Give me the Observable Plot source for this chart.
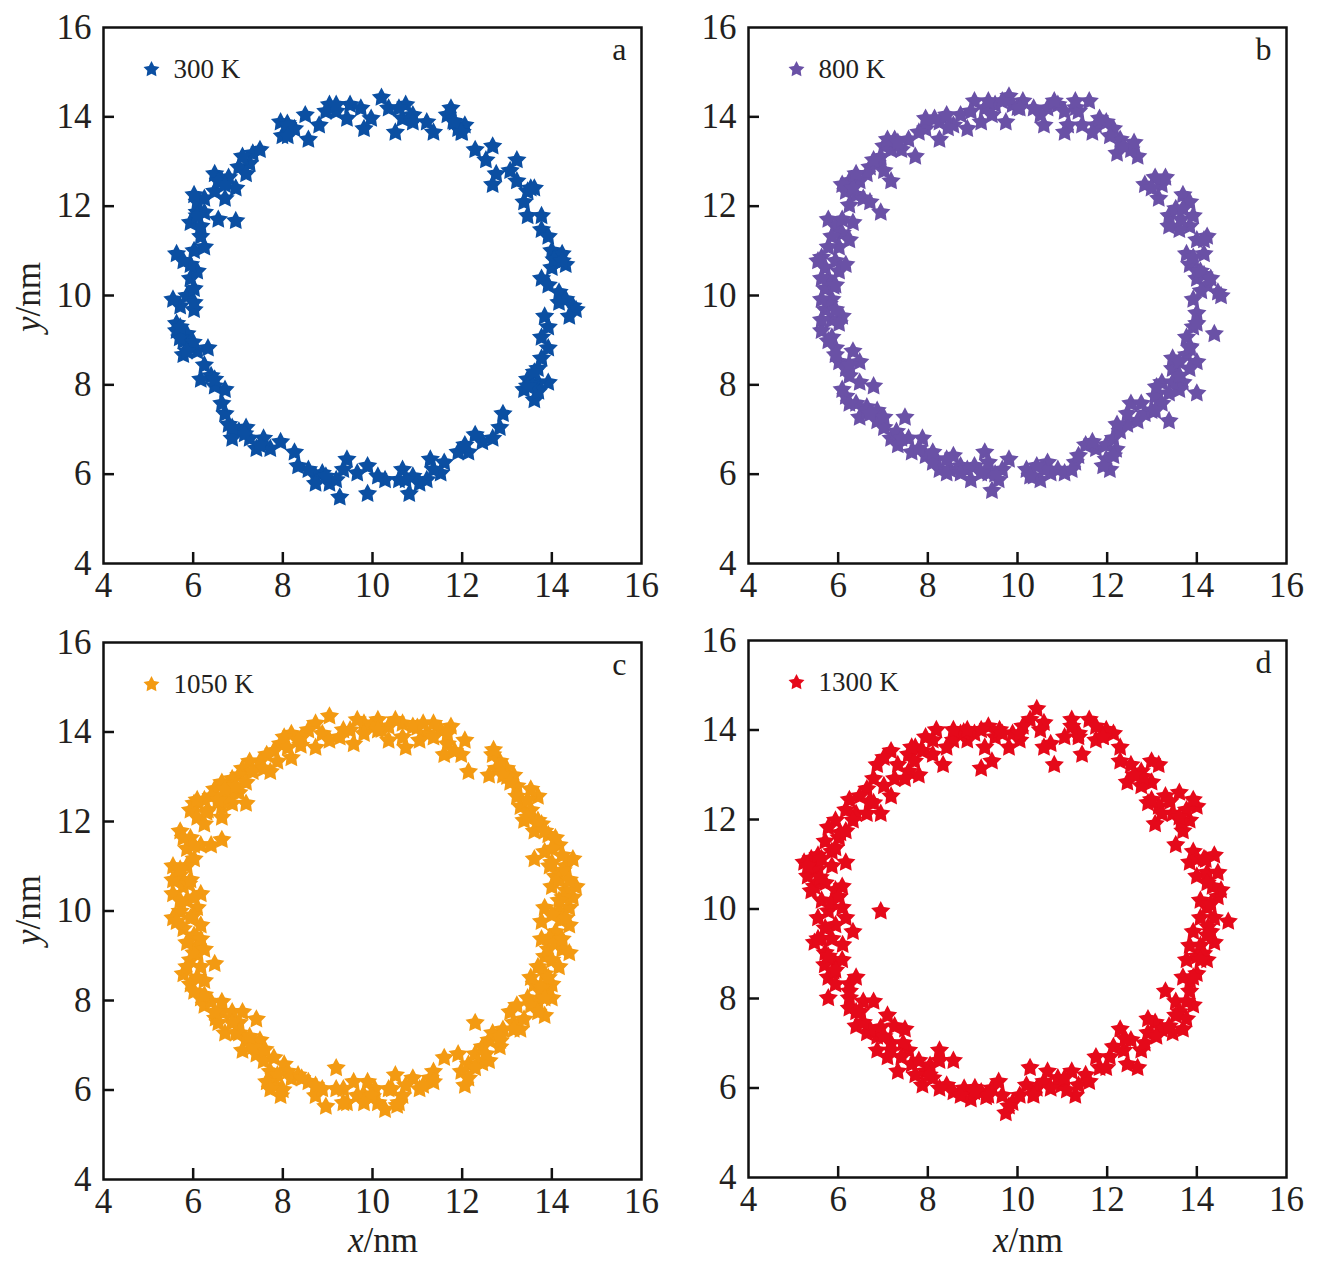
<!DOCTYPE html>
<html>
<head>
<meta charset="utf-8">
<script src="https://cdn.jsdelivr.net/npm/d3@7"></script>
<script src="https://cdn.jsdelivr.net/npm/@observablehq/plot@0.6"></script>
<style>
  html, body { margin: 0; padding: 0; background: #fff; }
  #wrap { position: relative; width: 1327px; height: 1273px; overflow: hidden; font-family: 'Liberation Serif', 'Times New Roman', serif; color: #231f20; }
  .pn { position: absolute; }
  .lab { position: absolute; font-size: 35px; white-space: nowrap; line-height: 1; }
  .lab i { font-style: italic; }
</style>
</head>
<body>
<div id="wrap"></div>
<script>
// tick labels / ticks
const tickValues = [4, 6, 8, 10, 12, 14, 16];
const innerTicks = [6, 8, 10, 12, 14];
const temps = ["300 K", "800 K", "1050 K", "1300 K"];
const letters = ["a", "b", "c", "d"];
const colors = ["#0b4fa2", "#6a51a6", "#f39a12", "#e5091a"];

// point positions (x nm, y nm)
const pts300 = [
[7.95,13.88],[7.99,13.57],[8.26,13.73],[8.50,14.04],[8.57,13.49],[8.81,13.81],[9.04,14.27],[9.19,14.12],[9.50,14.27],[9.43,13.96],
[9.74,14.19],[9.81,13.73],[9.97,13.96],[10.20,14.43],[10.36,14.19],[10.51,13.65],[10.67,13.96],[10.74,14.27],[10.90,14.04],[11.21,13.88],
[11.36,13.65],[11.67,14.04],[11.75,14.19],[11.91,13.73],[12.06,13.81],[12.29,13.26],[12.53,13.03],[12.68,13.34],[12.76,12.72],[12.68,12.48],
[13.07,12.79],[13.22,13.03],[13.22,12.56],[13.46,12.33],[13.61,12.40],[13.38,12.09],[13.46,11.78],[13.77,11.78],[13.77,11.47],[13.92,11.32],
[14.00,11.00],[14.16,10.85],[14.31,10.69],[14.23,10.93],[14.00,10.62],[13.77,10.38],[13.92,10.23],[14.16,10.07],[14.31,9.91],[14.47,9.76],
[14.54,9.68],[14.39,9.53],[13.84,9.53],[13.92,9.29],[13.77,9.06],[13.92,8.82],[13.77,8.59],[13.69,8.36],[13.46,8.12],[13.92,8.05],
[13.38,7.89],[13.61,7.66],[13.69,8.05],[12.91,7.35],[12.84,7.04],[12.68,6.80],[12.45,6.72],[12.29,6.88],[12.14,6.49],[11.91,6.49],
[11.60,6.26],[11.52,6.02],[11.29,6.33],[11.21,5.87],[11.05,5.79],[10.90,5.95],[10.82,5.56],[10.67,6.10],[10.59,5.87],[10.28,5.87],
[10.12,5.95],[9.89,6.18],[9.89,5.56],[9.66,6.02],[9.43,6.33],[9.35,6.10],[9.19,5.87],[9.27,5.48],[9.04,5.79],[8.88,6.02],
[8.73,5.95],[8.57,6.10],[8.34,6.18],[8.26,6.49],[7.95,6.72],[7.72,6.57],[7.57,6.80],[7.41,6.57],[7.26,6.80],[7.18,7.04],
[7.02,6.96],[6.87,6.80],[6.79,7.11],[6.71,7.35],[6.64,7.58],[6.71,7.89],[6.48,7.97],[6.40,8.20],[6.17,8.12],[6.25,8.44],
[6.09,8.75],[6.33,8.82],[5.94,8.90],[5.78,8.67],[5.78,8.98],[5.63,9.21],[5.86,9.14],[5.63,9.37],[6.02,9.68],[5.71,9.76],
[5.55,9.91],[5.86,9.99],[6.02,10.15],[5.94,10.38],[6.09,10.54],[5.94,10.69],[5.63,10.93],[5.78,10.77],[6.02,11.00],[6.25,11.08],
[6.17,11.32],[6.17,11.55],[5.94,11.63],[6.09,11.86],[6.25,11.86],[6.56,11.70],[6.95,11.67],[6.09,12.09],[6.25,12.17],[6.48,12.33],
[6.71,12.17],[6.64,12.56],[6.48,12.72],[6.79,12.64],[6.95,12.40],[7.02,12.87],[7.26,12.95],[7.33,13.18],[7.49,13.26],[7.10,13.11],
[7.18,12.72],[8.10,13.85],[11.80,13.90],[12.00,13.65],[14.05,10.80],[13.70,7.85],[13.55,8.00],[6.00,8.95],[5.70,9.05],[7.15,6.90],
[8.11,13.81],[8.11,13.57],[8.96,14.12],[9.19,14.27],[10.59,14.19],[10.90,13.88],[11.83,13.88],[11.98,13.65],[13.53,12.40],[14.23,10.77],
[14.16,9.84],[13.61,8.28],[13.46,7.97],[12.06,6.65],[11.36,6.10],[10.74,5.87],[8.96,5.95],[8.73,5.79],[7.49,6.65],[6.87,7.04],
[6.48,8.12],[5.86,8.75],[5.71,9.29],[6.02,9.84],[6.09,11.78],[6.02,12.25],[6.56,12.56],[6.71,12.48]
];

const pts800 = [
[9.04,14.35],[9.27,14.19],[9.50,14.27],[9.43,14.04],[9.81,14.46],[9.89,14.27],[10.12,14.35],[9.74,13.88],[9.19,13.88],[8.88,13.73],
[8.73,14.04],[8.57,13.81],[8.26,13.88],[8.15,13.96],[8.26,13.49],[7.95,13.73],[7.80,13.65],[7.57,13.49],[7.26,13.49],[7.18,13.26],
[7.02,13.34],[7.41,13.26],[7.72,13.11],[6.87,12.95],[6.71,12.87],[6.64,12.72],[6.48,12.56],[6.25,12.56],[6.17,12.33],[6.40,12.25],
[6.25,12.02],[6.56,12.17],[6.71,12.09],[6.95,11.86],[7.18,12.56],[7.02,12.79],[5.78,11.70],[5.94,11.55],[6.09,11.39],[6.25,11.24],
[6.02,11.08],[5.63,10.85],[5.71,10.62],[5.94,10.77],[6.02,10.54],[5.78,10.38],[5.71,10.15],[5.86,9.91],[5.71,9.68],[5.86,9.45],
[6.09,9.53],[5.63,9.21],[5.86,9.06],[5.94,8.82],[6.02,8.51],[6.17,8.36],[6.33,8.75],[6.48,8.51],[6.25,8.20],[6.48,8.05],
[6.79,7.97],[6.17,7.74],[6.40,7.58],[6.64,7.50],[6.48,7.27],[6.87,7.19],[7.02,7.04],[7.49,7.27],[7.18,6.80],[7.33,6.65],
[7.57,6.80],[7.88,6.80],[7.64,6.49],[7.95,6.41],[8.19,6.33],[8.26,6.10],[8.50,6.10],[8.57,6.41],[8.73,6.18],[8.96,5.87],
[9.04,6.18],[9.27,6.49],[9.35,6.02],[9.43,5.63],[9.58,5.87],[9.66,6.10],[9.81,6.33],[10.20,6.10],[10.36,5.95],[10.51,5.87],
[10.67,6.26],[10.90,6.10],[11.05,6.02],[11.29,6.26],[11.36,6.41],[11.52,6.65],[11.75,6.57],[11.98,6.33],[12.06,6.10],[11.98,6.65],
[12.14,6.80],[12.29,6.96],[12.45,7.11],[12.68,7.19],[12.53,7.58],[12.84,7.35],[12.99,7.42],[13.07,7.74],[13.22,7.58],[13.38,7.19],
[13.22,8.05],[13.46,8.36],[13.46,8.59],[13.77,8.67],[14.00,8.51],[13.69,8.05],[14.00,7.81],[13.61,7.89],[13.77,9.06],[13.92,9.29],
[14.00,9.60],[13.92,9.91],[14.39,9.14],[14.47,10.07],[14.23,10.23],[14.00,10.38],[13.84,10.69],[13.77,10.93],[14.16,10.93],[14.23,11.32],
[14.00,11.24],[13.84,11.55],[13.61,11.47],[13.38,11.78],[13.53,11.94],[13.69,12.25],[13.84,12.09],[13.38,11.55],[13.22,12.48],[13.15,12.17],
[12.84,12.48],[13.30,12.64],[12.68,13.11],[12.53,13.26],[12.22,13.18],[12.29,13.49],[12.14,13.73],[11.98,13.88],[11.75,13.81],[11.67,13.65],
[11.60,14.35],[11.36,14.12],[11.13,13.81],[11.05,13.65],[10.90,14.27],[10.67,14.19],[10.59,13.81],[10.51,14.04],[10.36,14.19],[6.09,12.48],
[6.33,12.40],[5.55,10.77],[5.78,11.08],[6.02,9.37],[6.64,7.42],[6.87,7.42],[8.11,6.26],[8.42,6.02],[13.46,8.05],[13.61,8.20],
[14.00,10.54],[14.16,10.46],[6.95,13.10],[8.45,13.75],[10.00,14.20],[11.30,14.20],[5.80,9.80],[5.90,10.20],[7.30,6.95],[9.50,6.00],
[12.20,6.55],[13.10,7.95],[13.85,8.85],[14.10,10.10],[13.65,11.70],
[6.40,12.72],[6.79,13.03],[7.10,13.49],[7.33,13.42],[7.95,13.96],[8.42,14.04],[8.96,14.12],[9.35,14.35],[9.66,14.35],[10.05,14.19],
[10.82,14.35],[11.05,14.12],[11.29,14.35],[11.44,13.81],[11.83,13.96],[12.06,13.57],[12.37,13.34],[12.60,13.42],[13.07,12.64],[12.99,12.40],
[13.69,11.94],[13.92,11.78],[14.16,11.24],[13.92,10.85],[14.08,10.54],[14.31,10.38],[14.54,9.99],[14.00,9.37],[13.84,8.82],[13.61,8.51],
[13.84,8.36],[13.61,8.20],[13.38,7.81],[13.07,7.42],[12.76,7.58],[12.45,7.35],[12.22,7.11],[12.14,6.41],[11.91,6.18],[11.67,6.72],
[11.21,6.10],[10.74,6.02],[10.59,6.10],[10.43,6.18],[10.28,5.95],[9.35,6.26],[9.19,6.02],[8.88,6.10],[8.73,6.02],[8.42,6.33],
[8.11,6.49],[7.80,6.57],[7.41,6.80],[7.02,7.27],[6.71,7.35],[6.25,7.58],[6.09,7.89],[6.25,8.44],[5.94,8.67],[5.78,8.98],
[5.63,9.45],[5.94,9.68],[5.63,9.91],[5.94,10.23],[5.63,10.38],[6.17,10.69],[5.86,11.32],[6.09,11.70],[6.33,11.63]
];

const pts1050 = [
[9.04,14.35],[8.73,14.19],[8.57,14.04],[8.42,13.88],[8.73,13.65],[8.19,13.96],[8.03,13.88],[7.95,13.73],[8.19,13.42],[7.80,13.57],
[7.64,13.49],[7.72,13.11],[7.49,13.34],[7.26,13.34],[7.10,13.18],[7.02,13.03],[6.87,12.95],[6.64,12.87],[6.48,12.72],[6.79,12.72],
[7.02,12.64],[7.18,12.40],[6.87,12.40],[6.64,12.33],[6.64,12.09],[6.40,12.56],[6.25,12.48],[6.02,12.40],[5.94,12.25],[6.09,12.09],
[6.25,11.94],[5.71,11.78],[5.94,11.63],[5.86,11.39],[6.17,11.47],[6.40,11.47],[6.64,11.59],[6.02,11.16],[5.86,11.00],[5.55,11.00],
[5.63,10.69],[5.78,10.54],[5.55,10.38],[5.86,10.23],[6.17,10.38],[6.09,10.07],[5.71,9.99],[5.55,9.84],[5.78,9.60],[6.17,9.68],
[6.02,9.45],[6.09,9.21],[5.94,8.90],[6.17,8.75],[6.48,8.82],[5.78,8.59],[5.94,8.36],[6.25,8.44],[6.17,8.05],[6.25,7.89],
[6.40,7.97],[6.64,7.97],[6.64,7.74],[6.87,7.74],[7.10,7.74],[7.41,7.58],[7.02,7.50],[6.71,7.27],[7.02,7.27],[7.18,7.11],
[7.49,7.11],[7.10,6.88],[7.41,6.80],[7.57,6.65],[7.80,6.72],[8.03,6.57],[7.72,6.41],[7.80,6.10],[7.95,5.87],[8.19,6.26],
[8.34,6.33],[8.57,6.18],[8.73,5.87],[8.96,5.63],[9.19,6.49],[9.35,6.02],[9.43,5.71],[9.66,5.87],[9.89,6.18],[10.05,6.02],
[10.12,5.71],[10.28,5.56],[10.43,6.02],[10.51,6.33],[10.67,5.87],[10.90,6.26],[11.05,6.02],[11.29,6.26],[11.36,6.41],[11.60,6.72],
[11.91,6.80],[11.98,6.41],[12.06,6.10],[12.14,6.57],[12.29,6.80],[12.29,7.50],[12.45,6.96],[12.60,7.11],[12.60,6.65],[12.68,7.27],
[12.84,6.96],[12.91,7.35],[13.07,7.74],[13.15,7.50],[13.30,7.35],[13.22,7.89],[13.46,8.05],[13.69,7.97],[13.84,7.66],[14.00,8.05],
[13.61,8.36],[13.53,8.51],[13.84,8.59],[14.00,8.36],[13.69,8.75],[13.84,8.98],[13.92,9.14],[14.23,9.14],[14.39,9.06],[13.77,9.37],
[14.08,9.53],[14.39,9.68],[13.77,9.76],[13.84,10.07],[14.16,9.99],[14.39,10.07],[14.47,10.30],[14.31,10.46],[14.54,10.54],[14.00,10.54],
[14.08,10.77],[14.31,11.00],[14.47,11.16],[14.00,11.08],[13.84,11.32],[14.16,11.47],[13.61,11.16],[13.92,11.70],[13.61,11.78],[13.77,11.94],
[13.38,12.02],[13.53,12.25],[13.30,12.33],[13.69,12.56],[13.53,12.72],[13.22,12.79],[13.15,13.03],[12.99,13.18],[12.76,13.18],[12.84,13.34],
[12.68,13.49],[12.60,13.03],[12.06,13.81],[12.14,13.11],[11.98,13.49],[11.60,13.49],[11.67,13.73],[11.75,14.12],[11.52,14.04],[11.36,14.19],
[11.21,13.96],[11.05,13.81],[10.74,13.65],[10.67,14.19],[10.51,14.27],[10.36,14.12],[10.12,14.27],[9.97,14.12],[9.81,14.19],[9.58,13.73],
[9.50,14.04],[9.35,14.04],[9.66,14.27],[5.70,10.80],[5.90,10.60],[6.00,9.90],[13.95,9.40],[14.20,9.80],[14.25,10.30],[13.90,8.20],
[13.75,8.20],[12.85,7.10],[12.45,6.60],[7.60,6.90],[6.50,7.60],[6.30,12.20],[6.80,12.55],[8.40,13.70],[10.20,14.05],[11.00,14.10],
[12.70,13.60],[13.00,13.00],[14.25,10.90],[13.95,11.00],[9.80,5.90],[10.00,5.85],[10.55,5.65],[8.00,6.00],[7.80,6.30],[6.10,9.05],
[6.09,12.48],[6.33,12.25],[6.56,12.48],[6.71,12.72],[6.95,12.79],[7.18,12.87],[7.33,13.11],[7.57,13.18],[7.88,13.34],[8.11,13.65],
[8.34,13.81],[8.88,13.96],[9.04,13.81],[9.27,13.88],[9.81,13.96],[10.12,14.04],[10.36,13.81],[10.67,13.88],[10.90,14.12],[11.13,14.19],
[11.36,13.88],[11.67,13.96],[11.83,13.57],[12.91,13.03],[13.07,12.87],[13.22,12.56],[13.46,12.48],[13.46,12.09],[13.69,12.02],[13.84,11.78],
[14.08,11.63],[14.00,11.39],[14.23,11.24],[14.16,10.69],[14.39,10.69],[14.16,10.23],[14.31,9.84],[14.00,9.91],[14.08,9.29],[14.23,9.37],
[14.00,8.90],[14.16,8.75],[13.92,8.51],[13.77,8.28],[13.84,8.05],[13.53,7.89],[13.69,7.74],[13.38,7.58],[13.15,7.35],[12.84,7.19],
[12.53,6.80],[12.29,6.49],[12.14,6.26],[11.36,6.18],[11.13,6.10],[10.74,6.10],[10.59,5.71],[10.36,6.02],[9.97,5.87],[9.81,5.71],
[9.58,6.18],[9.35,5.71],[9.19,6.02],[8.88,6.02],[8.73,6.10],[8.42,6.26],[8.11,6.41],[7.88,6.33],[7.64,6.18],[7.72,6.02],
[7.33,6.96],[7.26,7.19],[6.95,7.27],[6.87,7.50],[6.56,7.50],[6.48,7.74],[6.25,8.12],[6.02,8.20],[6.09,8.51],[5.86,8.75],
[6.02,9.06],[6.25,9.14],[6.17,9.37],[5.86,9.29],[5.63,9.76],[5.94,9.84],[5.71,10.23],[6.02,10.30],[5.55,10.69],[5.94,10.69],
[5.71,10.93],[6.02,11.47],[5.78,11.63]
];

const pts1300 = [
[10.43,14.47],[10.59,14.16],[10.28,14.23],[10.12,14.08],[10.05,13.77],[9.89,13.92],[9.81,13.61],[9.50,13.84],[9.35,14.08],[9.27,13.61],
[9.19,13.14],[9.43,13.30],[9.04,13.92],[8.88,13.77],[8.73,13.92],[8.57,13.77],[8.42,13.61],[8.34,13.22],[8.19,14.00],[8.11,13.77],
[7.95,13.84],[7.88,13.53],[7.72,13.61],[7.57,13.45],[7.57,13.07],[7.49,12.91],[7.80,12.99],[7.33,13.22],[7.18,13.53],[7.02,13.38],
[6.87,13.22],[6.79,12.91],[7.02,12.75],[6.64,12.68],[6.48,12.52],[6.25,12.44],[6.17,12.21],[6.40,12.13],[6.64,12.13],[6.95,12.13],
[5.94,11.98],[5.78,11.82],[5.71,11.51],[6.02,11.59],[5.86,11.28],[5.40,11.12],[5.24,11.04],[5.55,10.89],[5.86,10.96],[6.17,11.04],
[5.32,10.73],[5.47,10.50],[5.71,10.58],[5.94,10.42],[6.09,10.50],[5.63,10.19],[5.78,9.95],[6.09,10.03],[6.17,9.80],[6.33,9.49],
[5.94,9.64],[5.63,9.33],[5.47,9.25],[5.86,9.33],[5.71,9.02],[5.94,8.78],[6.09,8.86],[5.78,8.47],[5.94,8.32],[5.78,8.01],
[6.25,8.32],[6.40,8.47],[6.25,8.01],[6.56,7.93],[6.79,7.93],[6.25,7.78],[6.40,7.38],[6.64,7.23],[6.87,7.15],[7.10,7.62],
[7.26,7.38],[7.49,7.31],[6.87,6.84],[7.10,6.69],[7.33,6.37],[7.18,7.00],[7.57,6.84],[7.64,6.53],[7.80,6.61],[7.95,6.37],
[7.88,6.06],[8.11,6.22],[8.26,6.84],[8.26,6.61],[8.57,6.61],[8.42,6.06],[8.57,5.91],[8.81,5.99],[8.96,5.75],[9.19,5.91],
[9.43,5.99],[9.58,6.14],[9.66,5.83],[9.74,5.44],[9.89,5.67],[10.05,5.83],[10.20,6.06],[10.28,6.45],[10.43,5.99],[10.59,6.14],
[10.67,6.37],[10.90,6.22],[10.98,6.06],[11.21,6.37],[11.29,5.83],[11.36,6.06],[11.52,6.29],[11.75,6.69],[11.83,6.45],[12.06,6.69],
[12.29,7.31],[12.14,6.92],[12.37,6.84],[12.53,7.07],[12.68,6.45],[12.76,6.84],[12.91,7.23],[13.07,7.46],[13.22,7.31],[12.91,7.54],
[13.46,7.23],[13.69,7.31],[13.30,8.16],[13.53,7.93],[13.61,7.70],[13.77,7.54],[13.92,7.85],[13.84,8.16],[13.69,8.47],[14.00,8.55],
[13.77,8.86],[14.00,8.94],[14.23,8.86],[13.84,9.18],[14.08,9.18],[14.39,9.25],[13.92,9.49],[14.31,9.49],[14.08,9.80],[14.39,9.80],
[14.70,9.72],[14.23,10.03],[14.08,10.19],[14.47,10.27],[14.54,10.42],[14.00,10.73],[14.23,10.81],[14.47,10.81],[13.84,11.04],[13.92,11.28],
[14.39,11.20],[13.53,11.43],[13.69,11.74],[13.84,11.98],[14.00,12.29],[13.77,12.21],[13.46,12.13],[13.61,12.60],[13.30,12.52],[13.07,11.90],
[13.15,12.29],[12.91,12.37],[12.99,12.83],[12.76,12.75],[13.15,13.22],[12.99,13.30],[12.76,13.07],[12.45,12.83],[12.53,13.22],[12.29,13.61],
[12.14,13.92],[11.98,14.00],[11.75,13.77],[11.60,14.23],[11.75,14.08],[11.44,13.45],[11.36,13.84],[11.21,14.23],[11.05,13.84],[10.82,13.22],
[10.74,13.69],[10.59,13.61],[11.36,13.92],[6.95,9.95],[5.50,10.95],[5.60,10.70],[5.40,10.40],[5.85,10.15],[5.90,8.60],[6.50,7.70],
[6.95,7.35],[7.45,7.00],[8.05,6.50],[9.05,6.00],[9.30,5.80],[10.35,5.85],[11.10,5.95],[12.40,7.10],[13.10,7.15],[13.85,8.40],
[14.15,9.00],[14.25,9.60],[14.35,10.50],[14.20,11.10],[13.65,11.95],[13.40,12.40],[12.80,12.95],[11.90,13.85],[9.60,14.00],[8.80,13.95],
[7.70,13.30],[6.70,12.40],[6.05,11.70],[5.55,11.20],[6.10,9.20],[5.70,8.75],
[7.64,13.61],[8.11,13.45],[8.57,14.00],[8.88,14.00],[9.19,14.00],[9.66,13.92],[10.05,13.92],[10.51,14.00],[11.21,14.08],[11.91,13.84],
[12.29,13.30],[12.60,12.99],[12.99,12.44],[13.22,12.13],[13.61,12.05],[13.92,12.44],[14.00,11.12],[14.16,11.12],[14.23,10.58],[14.31,10.11],
[14.23,9.41],[14.08,8.86],[13.92,8.47],[13.77,7.93],[13.53,7.62],[13.38,7.38],[12.84,7.00],[12.45,6.53],[11.98,6.45],[11.60,6.14],
[11.05,6.22],[10.74,5.99],[10.36,5.83],[9.81,5.59],[9.35,5.83],[9.04,5.91],[8.73,5.83],[8.26,5.99],[8.03,6.29],[7.72,6.29],
[7.41,6.69],[7.18,6.84],[7.02,7.15],[6.71,7.31],[6.56,7.46],[6.40,7.70],[6.25,8.16],[5.94,8.63],[5.78,8.94],[5.55,9.33],
[5.71,9.57],[5.55,9.80],[6.02,10.27],[5.32,10.96],[5.63,11.12],[5.94,11.36],[6.17,11.74],[6.33,11.98],[6.79,12.37],[7.18,12.52],
[7.26,12.91]
];

const series = [pts300, pts800, pts1050, pts1300];

// panel geometry (svg placement + margins)
const layout = [
  {left: 0,   top: 0,   W: 660, H: 620, ml: 103, mr: 19, mt: 27, mb: 57},
  {left: 660, top: 0,   W: 667, H: 620, ml: 88,  mr: 41, mt: 27, mb: 57},
  {left: 0,   top: 620, W: 660, H: 653, ml: 103, mr: 19, mt: 22, mb: 94},
  {left: 660, top: 620, W: 667, H: 653, ml: 88,  mr: 41, mt: 20, mb: 96}
];

// a plump five-pointed star like the original plotting software's marker
const fatStar = {
  draw(context, size) {
    const R = Math.sqrt(size / Math.PI) * 1.75;
    const r = R * 0.52;
    for (let k = 0; k < 10; ++k) {
      const a = -Math.PI / 2 + k * Math.PI / 5;
      const rr = k % 2 ? r : R;
      const px = rr * Math.cos(a), py = rr * Math.sin(a);
      if (k === 0) context.moveTo(px, py); else context.lineTo(px, py);
    }
    context.closePath();
  }
};

const FONT = "'Liberation Serif', 'Times New Roman', serif";
const INK = "#231f20";
const wrap = document.getElementById("wrap");

series.forEach((data, i) => {
  const g = layout[i];
  const fw = g.W - g.ml - g.mr, fh = g.H - g.mt - g.mb;
  const color = colors[i];
  const chart = Plot.plot({
    width: g.W, height: g.H,
    marginLeft: g.ml, marginRight: g.mr, marginTop: g.mt, marginBottom: g.mb,
    x: {domain: [4, 16]},
    y: {domain: [4, 16]},
    style: {fontFamily: FONT, fontSize: "35px", color: INK, background: "transparent", overflow: "visible"},
    marks: [
      Plot.dot(data, {x: d => d[0], y: d => d[1], symbol: fatStar, r: 5.8, fill: color, stroke: "none"}),
      Plot.frame({stroke: "#111", strokeWidth: 2.5}),
      Plot.tickX(innerTicks, {x: d => d, insetTop: fh - 11, stroke: "#111", strokeWidth: 2.5}),
      Plot.tickY(innerTicks, {y: d => d, insetRight: fw - 11, stroke: "#111", strokeWidth: 2.5}),
      Plot.axisX({ticks: tickValues, tickSize: 0, tickPadding: 9, label: null, fontSize: 35, fill: INK}),
      Plot.axisY({ticks: tickValues, tickSize: 0, tickPadding: 12, label: null, fontSize: 35, fill: INK}),
      Plot.dot([temps[i]], {frameAnchor: "top-left", dx: 48, dy: 42, symbol: fatStar, r: 4.8, fill: color}),
      Plot.text([temps[i]], {frameAnchor: "top-left", dx: 70, dy: 42, text: d => d, textAnchor: "start", lineAnchor: "middle", fontSize: 27, fill: INK}),
      Plot.text([letters[i]], {frameAnchor: "top-right", dx: -15, dy: 22, text: d => d, textAnchor: "end", lineAnchor: "middle", fontSize: 32, fill: INK})
    ]
  });
  chart.classList.add("pn");
  chart.style.left = g.left + "px";
  chart.style.top = g.top + "px";
  chart.style.position = "absolute";
  wrap.appendChild(chart);
});

// axis titles
function addLabel(html, cx, cy, rotate) {
  const el = document.createElement("div");
  el.className = "lab";
  el.innerHTML = html;
  el.style.left = cx + "px";
  el.style.top = cy + "px";
  el.style.transform = "translate(-50%, -50%)" + (rotate ? " rotate(-90deg)" : "");
  wrap.appendChild(el);
}
addLabel("<i>y</i>/nm", 28, 297, true);
addLabel("<i>y</i>/nm", 28, 910, true);
addLabel("<i>x</i>/nm", 383, 1240, false);
addLabel("<i>x</i>/nm", 1028, 1240, false);
</script>
</body>
</html>
